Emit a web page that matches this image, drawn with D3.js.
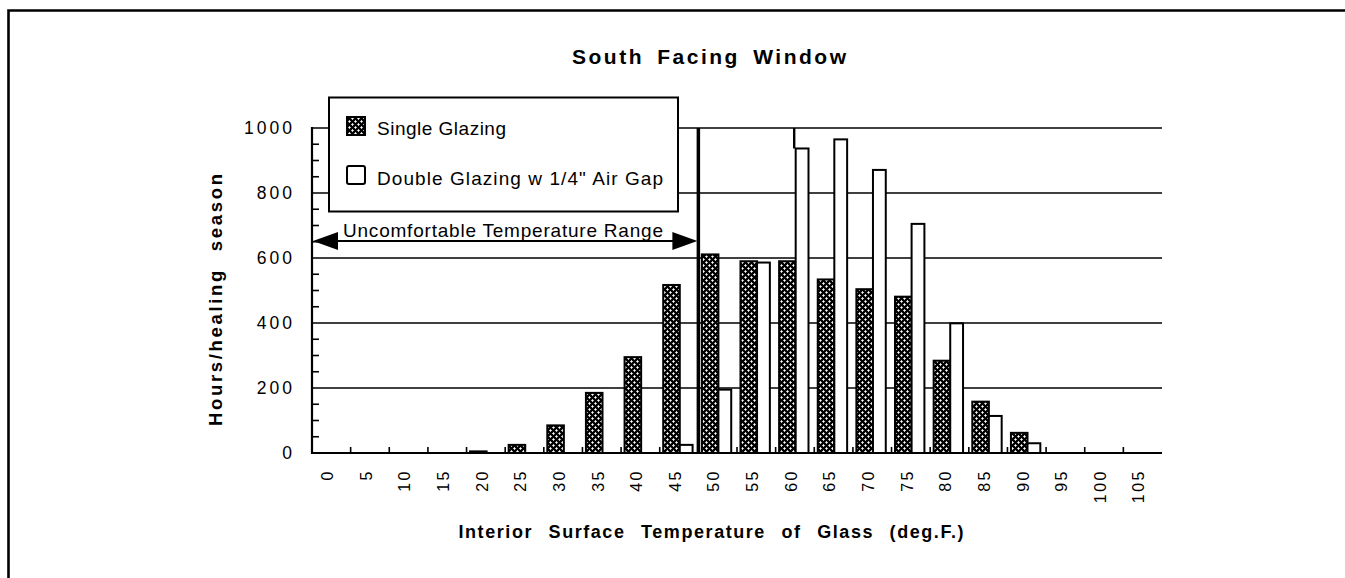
<!DOCTYPE html>
<html><head><meta charset="utf-8">
<script src="https://cdn.jsdelivr.net/npm/d3@7"></script>
<style>
body{margin:0;background:#fff}
svg{display:block}
text{font-family:"Liberation Sans",Arial,Helvetica,sans-serif;fill:#000}
</style>
</head><body>
<svg id="c" width="1345" height="578"></svg>
<script>
// ---- data ----
const categories = [0,5,10,15,20,25,30,35,40,45,50,55,60,65,70,75,80,85,90,95,100,105];
const singleGlazing = [0,0,0,0,5,25,85,185,295,517,611,590,590,534,504,481,284,158,62,0,0,0];
const doubleGlazing = [0,0,0,0,0,0,0,0,0,25,195,586,937,965,871,705,399,114,30,0,0,0];
const seriesKeys = ["single","double"];
const seriesLabels = ["Single Glazing","Double Glazing w 1/4\" Air Gap"];
const yTicks = [0,200,400,600,800,1000];
const yMinorStep = 50;
const comfortStart = 50; // boundary of uncomfortable range (deg F)
const titleText = "South Facing Window";
const xTitle = "Interior Surface Temperature of Glass (deg.F.)";
const yTitle = "Hours/healing season";
const rangeText = "Uncomfortable Temperature Range";

// ---- layout ----
const svg = d3.select("#c");
const pLeft = 312, pRight = 1162, pTop = 128, pBottom = 453;

const x = d3.scaleBand().domain(categories).range([pLeft, pRight]).paddingInner(0).paddingOuter(0);
const step = x.step();
const x1 = d3.scaleBand().domain(seriesKeys).range([step*0.09, step*0.87]);
const barW = {single: x1.bandwidth()*1.1, double: x1.bandwidth()*0.85};
const barX = {single: x1("single"), double: x1("single") + x1.bandwidth()*1.1};
const y = d3.scaleLinear().domain([0,1000]).range([pBottom, pTop]);

// pattern
const defs = svg.append("defs");
const pat = defs.append("pattern").attr("id","hatch").attr("patternUnits","userSpaceOnUse")
  .attr("width",6).attr("height",6);
pat.append("rect").attr("width",6).attr("height",6).attr("fill","#000");
pat.append("path").attr("d","M1.5,0.3V2.7M0.3,1.5H2.7M4.5,3.3V5.7M3.3,4.5H5.7")
  .attr("stroke","#fff").attr("stroke-width",1.1).attr("fill","none");

// frame
svg.append("path").attr("d","M8.5,578V10.5H1345").attr("fill","none").attr("stroke","#000").attr("stroke-width",2.6);

// title
svg.append("text").attr("x",709).attr("y",64).attr("text-anchor","middle")
  .attr("font-size",21).attr("font-weight","bold").attr("word-spacing","5px")
  .attr("textLength",274).attr("lengthAdjust","spacing").text(titleText);

// gridlines
svg.append("g").selectAll("line").data(yTicks.filter(d=>d>0)).join("line")
  .attr("x1",pLeft).attr("x2",pRight).attr("y1",d=>y(d)).attr("y2",d=>y(d))
  .attr("stroke","#000").attr("stroke-width",1.6);

// minor y ticks
const minor = d3.range(0,1000+1,yMinorStep).filter(d=>d%200!==0);
svg.append("g").selectAll("line").data(minor).join("line")
  .attr("x1",pLeft).attr("x2",pLeft+7).attr("y1",d=>y(d)).attr("y2",d=>y(d))
  .attr("stroke","#000").attr("stroke-width",1.6);

// bars
const rows = categories.map((c,i)=>({cat:c, single:singleGlazing[i], double:doubleGlazing[i]}));
const g = svg.append("g");
rows.forEach(r=>{
  seriesKeys.forEach(k=>{
    if (r[k] <= 0) return;
    g.append("rect")
      .attr("x", x(r.cat)+barX[k])
      .attr("y", y(r[k]))
      .attr("width", barW[k])
      .attr("height", y(0)-y(r[k]))
      .attr("fill", k==="single" ? "url(#hatch)" : "#fff")
      .attr("stroke","#000").attr("stroke-width",2);
  });
});

// vertical line at the 60 double bar (as in original)
const i60 = categories.indexOf(60);
svg.append("line").attr("x1",x(60)+barX.double-1.5).attr("x2",x(60)+barX.double-1.5)
  .attr("y1",y(1000)).attr("y2",y(doubleGlazing[i60])).attr("stroke","#000").attr("stroke-width",2.4);

// comfort boundary line
svg.append("line").attr("x1",x(comfortStart)).attr("x2",x(comfortStart))
  .attr("y1",y(1000)).attr("y2",y(0)).attr("stroke","#000").attr("stroke-width",3.5);

// axes lines
svg.append("line").attr("x1",pLeft).attr("x2",pLeft).attr("y1",y(1000)-1).attr("y2",y(0)+1)
  .attr("stroke","#000").attr("stroke-width",2.2);
svg.append("line").attr("x1",pLeft-1).attr("x2",pRight).attr("y1",y(0)).attr("y2",y(0))
  .attr("stroke","#000").attr("stroke-width",2.2);

// x ticks at band boundaries
svg.append("g").selectAll("line").data(categories.slice(1)).join("line")
  .attr("x1",d=>x(d)).attr("x2",d=>x(d)).attr("y1",y(0)).attr("y2",y(0)-6)
  .attr("stroke","#000").attr("stroke-width",1.6);

// y tick labels
svg.append("g").selectAll("text").data(yTicks).join("text")
  .attr("x",295).attr("y",d=>y(d)).attr("dy","0.36em").attr("text-anchor","end")
  .attr("font-size",17.5).attr("letter-spacing","3px").text(d=>d);

// x tick labels (rotated)
svg.append("g").selectAll("text").data(categories).join("text")
  .attr("transform",d=>`translate(${x(d)+step/2-4},469) rotate(-90)`)
  .attr("dy","0.36em").attr("text-anchor","end")
  .attr("font-size",16).attr("letter-spacing","2.5px").text(d=>d);

// axis titles
svg.append("text").attr("x",711).attr("y",538).attr("text-anchor","middle")
  .attr("font-size",18).attr("font-weight","bold").attr("word-spacing","9px")
  .attr("textLength",505).attr("lengthAdjust","spacing").text(xTitle);
svg.append("text").attr("transform","translate(222,300) rotate(-90)").attr("text-anchor","middle")
  .attr("font-size",18.5).attr("font-weight","bold").attr("word-spacing","9px")
  .attr("textLength",252).attr("lengthAdjust","spacing").text(yTitle);

// legend
const lg = svg.append("g");
lg.append("rect").attr("x",329).attr("y",97.5).attr("width",349).attr("height",114)
  .attr("fill","#fff").attr("stroke","#000").attr("stroke-width",2);
const legendRows = [{k:"single", y:117, ty:135, len:129},{k:"double", y:166, ty:185, len:286}];
legendRows.forEach((r,i)=>{
  lg.append("rect").attr("x",347).attr("y",r.y).attr("width",18).attr("height",18)
    .attr("rx", r.k==="double"?2:0)
    .attr("fill", r.k==="single" ? "url(#hatch)" : "#fff").attr("stroke","#000").attr("stroke-width",2);
  lg.append("text").attr("x",377).attr("y",r.ty).attr("font-size",19)
    .attr("textLength",r.len).attr("lengthAdjust","spacing").text(seriesLabels[i]);
});

// uncomfortable range arrow
const ay = 241, ax0 = x(categories[0]) + 1, ax1 = x(comfortStart) - 1;
svg.append("line").attr("x1",ax0+20).attr("x2",ax1-20).attr("y1",ay).attr("y2",ay)
  .attr("stroke","#000").attr("stroke-width",2);
svg.append("path").attr("d",`M${ax0},${ay}L${ax0+25},${ay-9}L${ax0+25},${ay+9}Z`).attr("fill","#000");
svg.append("path").attr("d",`M${ax1},${ay}L${ax1-25},${ay-9}L${ax1-25},${ay+9}Z`).attr("fill","#000");
svg.append("text").attr("x",(343+663)/2).attr("y",236.5).attr("text-anchor","middle")
  .attr("font-size",19).attr("textLength",320).attr("lengthAdjust","spacing").text(rangeText);
</script>
</body></html>
